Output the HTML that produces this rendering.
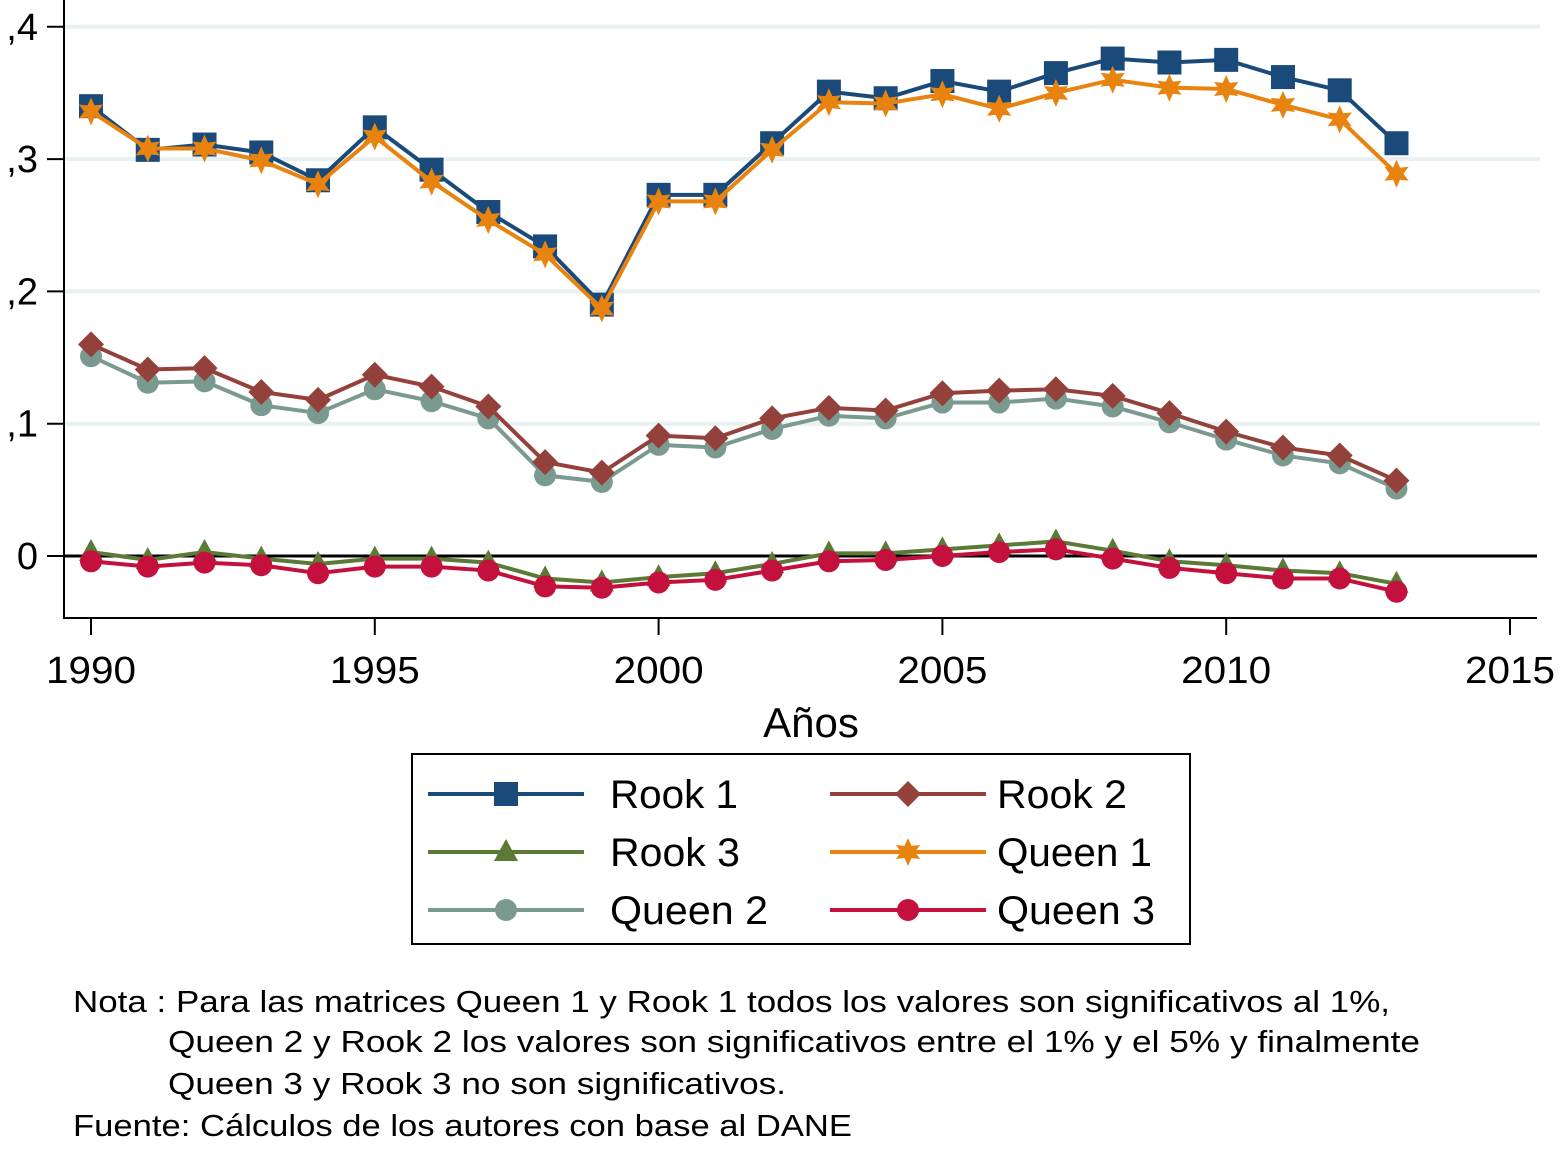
<!DOCTYPE html>
<html><head><meta charset="utf-8"><style>
body{margin:0;background:#fff;width:1560px;height:1146px;overflow:hidden;font-family:"Liberation Sans",sans-serif}
svg text{font-family:"Liberation Sans",sans-serif}
</style></head><body>
<svg id="c" width="1560" height="1146" xmlns="http://www.w3.org/2000/svg"></svg>
<script>
const years=[1990,1991,1992,1993,1994,1995,1996,1997,1998,1999,2000,2001,2002,2003,2004,2005,2006,2007,2008,2009,2010,2011,2012,2013];
const rook1=[.340,.307,.311,.305,.284,.324,.292,.260,.234,.190,.273,.273,.312,.351,.346,.359,.351,.365,.376,.373,.375,.362,.352,.312];
const queen1=[.336,.308,.308,.299,.281,.317,.283,.254,.228,.187,.268,.268,.307,.343,.342,.349,.338,.350,.360,.354,.353,.341,.330,.289];
const rook2=[.160,.141,.142,.124,.118,.137,.128,.113,.071,.063,.091,.089,.104,.112,.110,.123,.125,.126,.121,.108,.094,.082,.076,.057];
const queen2=[.151,.131,.132,.114,.108,.126,.117,.104,.061,.056,.084,.082,.096,.106,.104,.116,.116,.119,.113,.101,.088,.076,.070,.051];
const rook3=[.003,-.003,.003,-.002,-.006,-.002,-.002,-.005,-.017,-.020,-.016,-.013,-.006,.002,.002,.005,.008,.011,.004,-.004,-.007,-.011,-.013,-.021];
const queen3=[-.004,-.008,-.005,-.007,-.013,-.008,-.008,-.011,-.023,-.024,-.020,-.018,-.011,-.004,-.003,0,.003,.005,-.002,-.009,-.013,-.017,-.017,-.027];
const yTicks=[0,.1,.2,.3,.4];
const yLabels=["0",",1",",2",",3",",4"];
const xTicks=[1990,1995,2000,2005,2010,2015];
const X=v=>91+(v-1990)*56.76, Y=v=>556-v*1323;
const svg=document.getElementById('c');
const NS='http://www.w3.org/2000/svg';
function mk(t,a,p){const e=document.createElementNS(NS,t);for(const k in a)e.setAttribute(k,a[k]);(p||svg).appendChild(e);return e;}
yTicks.forEach((v,i)=>{
  if(v!==0){const g=mk('line',{x1:65,x2:1540,y1:Y(v),y2:Y(v),stroke:'#e8f0f1','stroke-width':4});
  
  }
  mk('line',{x1:47,x2:64,y1:Y(v),y2:Y(v),stroke:'#000','stroke-width':2});
  const t=mk('text',{x:38,y:Y(v)+13,'text-anchor':'end','font-size':38});t.textContent=yLabels[i];
  
  
});
const zl=mk('line',{x1:64,x2:1537,y1:Y(0),y2:Y(0),stroke:'#000','stroke-width':3});

const ya=mk('line',{x1:64,x2:64,y1:0,y2:619,stroke:'#000','stroke-width':2});

const xa=mk('line',{x1:63,x2:1537,y1:618,y2:618,stroke:'#000','stroke-width':2});

xTicks.forEach(v=>{mk('line',{x1:X(v),x2:X(v),y1:618,y2:635,stroke:'#000','stroke-width':2});
  const t=mk('text',{x:X(v),y:683,'text-anchor':'middle','font-size':38,textLength:90,lengthAdjust:'spacingAndGlyphs'});t.textContent=v;
  });
const xt=mk('text',{x:811,y:737,'text-anchor':'middle','font-size':42});xt.textContent='Años';

function marker(type,x,y,c,p){
  if(type==='sq')return mk('rect',{x:x-12,y:y-12,width:24,height:24,fill:c},p);
  if(type==='di')return mk('polygon',{points:`${x},${y-13} ${x+13},${y} ${x},${y+13} ${x-13},${y}`,fill:c},p);
  if(type==='tr')return mk('polygon',{points:`${x},${y-13} ${x+12},${y+9} ${x-12},${y+9}`,fill:c},p);
  if(type==='ci')return mk('circle',{cx:x,cy:y,r:11,fill:c},p);
  if(type==='st'){let pts=[];for(let i=0;i<12;i++){const r=i%2?7:14,a=Math.PI/6*i-Math.PI/2;pts.push((x+r*Math.cos(a)).toFixed(1)+','+(y+r*Math.sin(a)).toFixed(1));}
    return mk('polygon',{points:pts.join(' '),fill:c},p);}
}
const series=[
 ['rook-3',rook3,'#5a7a35','tr'],['queen-3',queen3,'#c4103c','ci'],
 ['queen-2',queen2,'#7a9a90','ci'],['rook-2',rook2,'#93413a','di'],
 ['rook-1',rook1,'#1a4a7a','sq'],['queen-1',queen1,'#e8830f','st']];
series.forEach(([n,d,c,m])=>{
  const g=mk('g',{});
  mk('polyline',{points:d.map((v,i)=>X(years[i])+','+Y(v)).join(' '),fill:'none',stroke:c,'stroke-width':4},g);
  d.forEach((v,i)=>{const e=marker(m,X(years[i]),Y(v),c,g);});
});
const lg=mk('g',{});
mk('rect',{x:412,y:754,width:778,height:190,fill:'#fff',stroke:'#000','stroke-width':2},lg);
const leg=[['Rook 1','#1a4a7a','sq',0,0,128],['Rook 2','#93413a','di',1,0,130],['Rook 3','#5a7a35','tr',0,1,130],['Queen 1','#e8830f','st',1,1,155],['Queen 2','#7a9a90','ci',0,2,158],['Queen 3','#c4103c','ci',1,2,158]];
leg.forEach(([n,c,m,col,row,w])=>{
  const g=mk('g',{},lg);
  const x0=col?830:428,y=794+row*58;
  mk('line',{x1:x0,x2:x0+156,y1:y,y2:y,stroke:c,'stroke-width':4},g);
  marker(m,x0+78,y,c,g);
  const t=mk('text',{x:col?997:610,y:y+14,'font-size':40,textLength:w,lengthAdjust:'spacingAndGlyphs'},g);t.textContent=n;
});
const notes=[[73,1012,'Nota : Para las matrices Queen 1 y  Rook 1 todos los valores son significativos al 1%,',1317],
[168,1052,'Queen 2 y Rook 2 los valores son significativos entre el 1%  y el  5% y finalmente',1252],
[168,1094,'Queen 3 y  Rook 3 no son significativos.',618],
[73,1136,'Fuente: Cálculos de los autores con base al DANE',779]];
notes.forEach(([x,y,s,w])=>{const t=mk('text',{x:x,y:y,'font-size':31,textLength:w,lengthAdjust:'spacingAndGlyphs'});t.textContent=s;
  });
</script>
</body></html>
